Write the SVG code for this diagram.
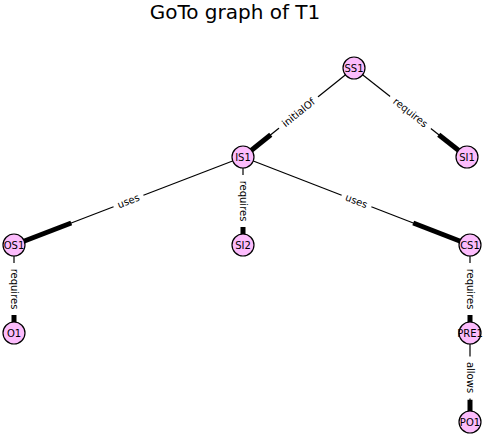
<svg xmlns="http://www.w3.org/2000/svg" width="487" height="437" viewBox="0 0 487 437">
<style>
.thin{stroke:#000;stroke-width:1.2;fill:none}
.thick{stroke:#000;stroke-width:5;fill:none}
.node circle{fill:#fcbcfc;stroke:#000;stroke-width:1.2}
.node text{font-family:"DejaVu Sans",sans-serif;font-size:10px;text-anchor:middle;dominant-baseline:central;fill:#000}
.lbl rect{fill:#fff;stroke:none}
.lbl text{font-family:"DejaVu Sans",sans-serif;font-size:10px;text-anchor:middle;dominant-baseline:central;fill:#000}
.title{font-family:"DejaVu Sans",sans-serif;font-size:20px;text-anchor:middle;fill:#000}
</style>
<rect width="487" height="437" fill="#fff"/>
<text class="title" x="235" y="19">GoTo graph of T1</text>
<g id="connectors">
<line class="thin" x1="354" y1="68" x2="243" y2="157"/>
<line class="thick" x1="270.75" y1="134.75" x2="243" y2="157"/>
<line class="thin" x1="354" y1="68" x2="467" y2="157"/>
<line class="thick" x1="438.75" y1="134.75" x2="467" y2="157"/>
<line class="thin" x1="243" y1="157" x2="14" y2="245"/>
<line class="thick" x1="71.25" y1="223" x2="14" y2="245"/>
<line class="thin" x1="243" y1="157" x2="243" y2="245"/>
<line class="thick" x1="243" y1="223" x2="243" y2="245"/>
<line class="thin" x1="243" y1="157" x2="470" y2="245"/>
<line class="thick" x1="413.25" y1="223" x2="470" y2="245"/>
<line class="thin" x1="14" y1="245" x2="14" y2="333"/>
<line class="thick" x1="14" y1="311" x2="14" y2="333"/>
<line class="thin" x1="470" y1="245" x2="470" y2="333"/>
<line class="thick" x1="470" y1="311" x2="470" y2="333"/>
<line class="thin" x1="470" y1="333" x2="470" y2="422"/>
<line class="thick" x1="470" y1="399.75" x2="470" y2="422"/>
<g class="lbl" transform="translate(298.5,112.5) rotate(-38.72)"><rect x="-25" y="-7" width="50" height="14"/><text>initialOf</text></g>
<g class="lbl" transform="translate(410.5,112.5) rotate(38.22)"><rect x="-26" y="-7" width="52" height="14"/><text>requires</text></g>
<g class="lbl" transform="translate(128.5,201) rotate(-21.02)"><rect x="-16" y="-7" width="32" height="14"/><text>uses</text></g>
<g class="lbl" transform="translate(243,201) rotate(90)"><rect x="-26" y="-7" width="52" height="14"/><text>requires</text></g>
<g class="lbl" transform="translate(356.5,201) rotate(21.19)"><rect x="-16" y="-7" width="32" height="14"/><text>uses</text></g>
<g class="lbl" transform="translate(14,289) rotate(90)"><rect x="-26" y="-7" width="52" height="14"/><text>requires</text></g>
<g class="lbl" transform="translate(470,289) rotate(90)"><rect x="-26" y="-7" width="52" height="14"/><text>requires</text></g>
<g class="lbl" transform="translate(470,377.5) rotate(90)"><rect x="-21" y="-7" width="42" height="14"/><text>allows</text></g>
</g>
<g id="SS1" class="node"><circle cx="354" cy="68" r="11"/><text x="354" y="68">SS1</text></g>
<g id="IS1" class="node"><circle cx="243" cy="157" r="11"/><text x="243" y="157">IS1</text></g>
<g id="SI1" class="node"><circle cx="467" cy="157" r="11"/><text x="467" y="157">SI1</text></g>
<g id="OS1" class="node"><circle cx="14" cy="245" r="11"/><text x="14" y="245">OS1</text></g>
<g id="SI2" class="node"><circle cx="243" cy="245" r="11"/><text x="243" y="245">SI2</text></g>
<g id="CS1" class="node"><circle cx="470" cy="245" r="11"/><text x="470" y="245">CS1</text></g>
<g id="O1" class="node"><circle cx="14" cy="333" r="11"/><text x="14" y="333">O1</text></g>
<g id="PRE1" class="node"><circle cx="470" cy="333" r="11"/><text x="470" y="333">PRE1</text></g>
<g id="PO1" class="node"><circle cx="470" cy="422" r="11"/><text x="470" y="422">PO1</text></g>
</svg>
